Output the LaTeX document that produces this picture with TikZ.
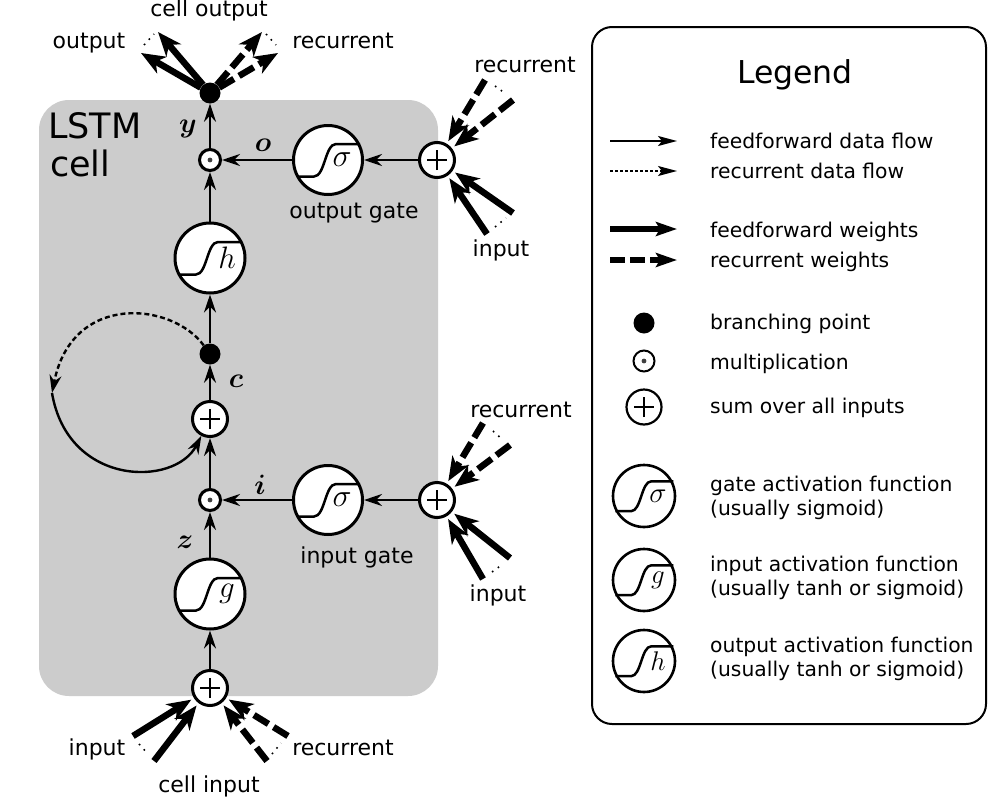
\RequirePackage{fix-cm}
\documentclass[tikz,border=0pt]{standalone}
\usepackage{amsmath}
\usepackage{bm}
\usepackage{fontspec}
\setmainfont{DejaVu Sans}
\usetikzlibrary{arrows.meta}
\tikzset{
  thinarrow/.style={line width=2.4pt,-{Stealth[length=18pt,width=12pt,inset=6pt]}},
  fwdweight/.style={line width=6.5pt,-{Stealth[length=24pt,width=19pt,inset=7pt]},shorten >=3pt},
  recweight/.style={fwdweight,dash pattern=on 17pt off 6pt},
  dotsline/.style={line width=1.6pt,dash pattern=on 1.6pt off 5.5pt},
  sumnode/.style={circle,draw,fill=white,line width=3pt,minimum size=35pt,inner sep=0pt,
    path picture={\draw[line width=2.4pt] ([xshift=-10pt]path picture bounding box.center) -- ([xshift=10pt]path picture bounding box.center)
      ([yshift=-10pt]path picture bounding box.center) -- ([yshift=10pt]path picture bounding box.center);}},
  mulnode/.style={circle,draw,fill=white,line width=3pt,minimum size=21pt,inner sep=0pt,
    path picture={\fill[black!75] (path picture bounding box.center) circle (2.4pt);}},
  branchnode/.style={circle,fill=black,minimum size=21pt,inner sep=0pt},
  actnode/.style={circle,draw,fill=white,line width=3pt,minimum size=#1,inner sep=0pt},
  sigcurve/.style={line width=2.5pt},
  lab/.style={font=\fontsize{22}{26}\selectfont,anchor=base,inner sep=0pt},
  legtext/.style={font=\fontsize{20.3}{25}\selectfont,anchor=base west,inner sep=0pt},
  varlab/.style={font=\fontsize{28}{32}\selectfont,inner sep=0pt},
}
\newcommand{\sigmoidin}[5]{% node, scale, letter, letter x offset, letter size
  \draw[sigcurve,shift={(#1.center)},scale=#2] (-31,16.5) -- (-14,16.5) .. controls (-3,16.5) and (-3,-16) .. (8,-16) -- (32,-16);
  \node[inner sep=0pt,font=\fontsize{#5}{#5}\selectfont] at ([xshift=#4pt]#1.center) {$#3$};
}
\begin{document}
\begin{tikzpicture}[x=1pt,y=-1pt]
\useasboundingbox (0,0) rectangle (988,798);
\fill[white] (0,0) rectangle (988,798);
\fill[black!20,rounded corners=30pt] (39,100) rectangle (438,696);
\draw[line width=2pt,rounded corners=20pt] (592,27) rectangle (986,724);

\node[font=\fontsize{35}{40}\selectfont,anchor=base west,inner sep=0pt] (lstm) at (48,138) {LSTM};
\node[font=\fontsize{35}{40}\selectfont,anchor=base west,inner sep=0pt] (cellname) at (50,176) {cell};

% main nodes
\node[branchnode] (ydot) at (210,93) {};
\node[mulnode] (omul) at (210,160) {};
\node[actnode=69pt] (osig) at (328,160) {};
\node[sumnode] (osum) at (437,160) {};
\node[actnode=70pt] (hact) at (210,258) {};
\node[branchnode] (cdot) at (210,354) {};
\node[sumnode] (csum) at (210,419) {};
\node[mulnode] (imul) at (210,500) {};
\node[actnode=69pt] (isig) at (328,500) {};
\node[sumnode] (isum) at (437,500) {};
\node[actnode=70pt] (gact) at (210,594) {};
\node[sumnode] (zsum) at (210,688) {};

\sigmoidin{osig}{1}{\sigma}{14}{32}
\sigmoidin{isig}{1}{\sigma}{14}{32}
\sigmoidin{hact}{1}{h}{17}{31}
\sigmoidin{gact}{1}{g}{17}{31}

% data flow
\draw[thinarrow] (omul) -- (ydot);
\draw[thinarrow] (osig) -- (omul);
\draw[thinarrow] (osum) -- (osig);
\draw[thinarrow] (hact) -- (omul);
\draw[thinarrow] (cdot) -- (hact);
\draw[thinarrow] (csum) -- (cdot);
\draw[thinarrow] (imul) -- (csum);
\draw[thinarrow] (isig) -- (imul);
\draw[thinarrow] (isum) -- (isig);
\draw[thinarrow] (gact) -- (imul);
\draw[thinarrow] (zsum) -- (gact);

% recurrent loop
\coordinate (loop) at (52,393);
\draw[thinarrow,dash pattern=on 5pt off 3pt] (cdot) .. controls (172,302) and (72,292) .. (loop);
\draw[thinarrow] (loop) .. controls (68,487) and (175,487) .. (csum);

% output weights
\coordinate (t1) at (158,32);
\coordinate (t2) at (141,53);
\coordinate (t3) at (262,32);
\coordinate (t4) at (278,53);
\draw[fwdweight,shorten >=0pt] (ydot) -- (t1);
\draw[fwdweight,shorten >=0pt] (ydot) -- (t2);
\draw[recweight,shorten >=0pt] (ydot) -- (t3);
\draw[recweight,shorten >=0pt] (ydot) -- (t4);
\coordinate (d1a) at (144,45); \coordinate (d1b) at (154,34);
\coordinate (d2a) at (266,34); \coordinate (d2b) at (276,45);
\draw[dotsline] (d1a) -- (d1b);
\draw[dotsline] (d2a) -- (d2b);

% output gate weights
\coordinate (o1) at (485,80);
\coordinate (o2) at (513,100);
\coordinate (o3) at (487,234);
\coordinate (o4) at (513,213);
\draw[recweight] (o1) -- (osum);
\draw[recweight] (o2) -- (osum);
\draw[fwdweight] (o3) -- (osum);
\draw[fwdweight] (o4) -- (osum);
\coordinate (o5) at (495,86); \coordinate (o6) at (506,94);
\coordinate (o7) at (495,227); \coordinate (o8) at (506,218);
\draw[dotsline] (o5) -- (o6);
\draw[dotsline] (o7) -- (o8);

% input gate weights
\coordinate (i1) at (483,423);
\coordinate (i2) at (510,445);
\coordinate (i3) at (483,579);
\coordinate (i4) at (510,558);
\draw[recweight] (i1) -- (isum);
\draw[recweight] (i2) -- (isum);
\draw[fwdweight] (i3) -- (isum);
\draw[fwdweight] (i4) -- (isum);
\coordinate (i5) at (493,431); \coordinate (i6) at (503,440);
\coordinate (i7) at (492,572); \coordinate (i8) at (503,564);
\draw[dotsline] (i5) -- (i6);
\draw[dotsline] (i7) -- (i8);

% cell input weights
\coordinate (z1) at (133,736);
\coordinate (z2) at (154,761);
\coordinate (z3) at (267,761);
\coordinate (z4) at (288,736);
\draw[fwdweight] (z1) -- (zsum);
\draw[fwdweight] (z2) -- (zsum);
\draw[recweight] (z3) -- (zsum);
\draw[recweight] (z4) -- (zsum);
\coordinate (z5) at (139,744); \coordinate (z6) at (148,754);
\coordinate (z7) at (272,754); \coordinate (z8) at (281,743);
\draw[dotsline] (z5) -- (z6);
\draw[dotsline] (z7) -- (z8);

% variable labels
\node[varlab] (vary) at (188,129) {$\bm{y}$};
\node[varlab] (varo) at (263,145) {$\bm{o}$};
\node[varlab] (varc) at (236,381) {$\bm{c}$};
\node[varlab] (vari) at (260,485) {$\bm{i}$};
\node[varlab] (varz) at (185,542) {$\bm{z}$};

% labels
\node[lab] (l1) at (209,16) {cell output};
\node[lab] (l2) at (89,48) {output};
\node[lab] (l3) at (343,48) {recurrent};
\node[lab] (l4) at (525,72) {recurrent};
\node[lab] (l5) at (501,256) {input};
\node[lab] (l6) at (354,218) {output gate};
\node[lab] (l7) at (521,417) {recurrent};
\node[lab] (l8) at (357,563) {input gate};
\node[lab] (l9) at (498,601) {input};
\node[lab] (l10) at (97,755) {input};
\node[lab] (l11) at (343,755) {recurrent};
\node[lab] (l12) at (209,792) {cell input};

% legend
\node[font=\fontsize{31.5}{36}\selectfont,anchor=base,inner sep=0pt] (legtitle) at (795,83) {Legend};
\coordinate (a1) at (610,141); \coordinate (b1) at (677,141);
\coordinate (a2) at (610,171); \coordinate (b2) at (677,171);
\coordinate (a3) at (610,229); \coordinate (b3) at (677,229);
\coordinate (a4) at (610,260); \coordinate (b4) at (677,260);
\draw[line width=1.8pt,-{Stealth[length=19pt,width=10pt,inset=4pt]}] (a1) -- (b1);
\draw[line width=1.5pt,dash pattern=on 3pt off 2pt,-{Stealth[length=19pt,width=10pt,inset=4pt]}] (a2) -- (b2);
\draw[line width=6pt,-{Stealth[length=21pt,width=14pt,inset=4pt]}] (a3) -- (b3);
\draw[line width=6pt,dash pattern=on 15pt off 5pt,-{Stealth[length=21pt,width=14pt,inset=4pt]}] (a4) -- (b4);
\node[branchnode] (lbr) at (644,323) {};
\node[mulnode,minimum size=21pt,line width=2pt] (lmul) at (644,361) {};
\node[sumnode,line width=2.2pt] (lsum) at (644,407) {};
\node[actnode=62pt,line width=2.6pt] (lsig) at (644,496) {};
\node[actnode=62pt,line width=2.6pt] (lg) at (644,580) {};
\node[actnode=62pt,line width=2.6pt] (lh) at (644,661) {};
\sigmoidin{lsig}{.92}{\sigma}{14}{29}
\sigmoidin{lg}{.92}{g}{14}{27}
\sigmoidin{lh}{.92}{h}{14}{27}

\node[legtext] (t01) at (710,148) {feedforward data flow};
\node[legtext] (t02) at (710,178) {recurrent data flow};
\node[legtext] (t03) at (710,237) {feedforward weights};
\node[legtext] (t04) at (710,267) {recurrent weights};
\node[legtext] (t05) at (710,329) {branching point};
\node[legtext] (t06) at (710,369) {multiplication};
\node[legtext] (t07) at (710,413) {sum over all inputs};
\node[legtext] (t08) at (710,491) {gate activation function};
\node[legtext] (t09) at (710,515) {(usually sigmoid)};
\node[legtext] (t10) at (710,571) {input activation function};
\node[legtext] (t11) at (710,595) {(usually tanh or sigmoid)};
\node[legtext] (t12) at (710,652) {output activation function};
\node[legtext] (t13) at (710,676) {(usually tanh or sigmoid)};
\end{tikzpicture}
\end{document}
